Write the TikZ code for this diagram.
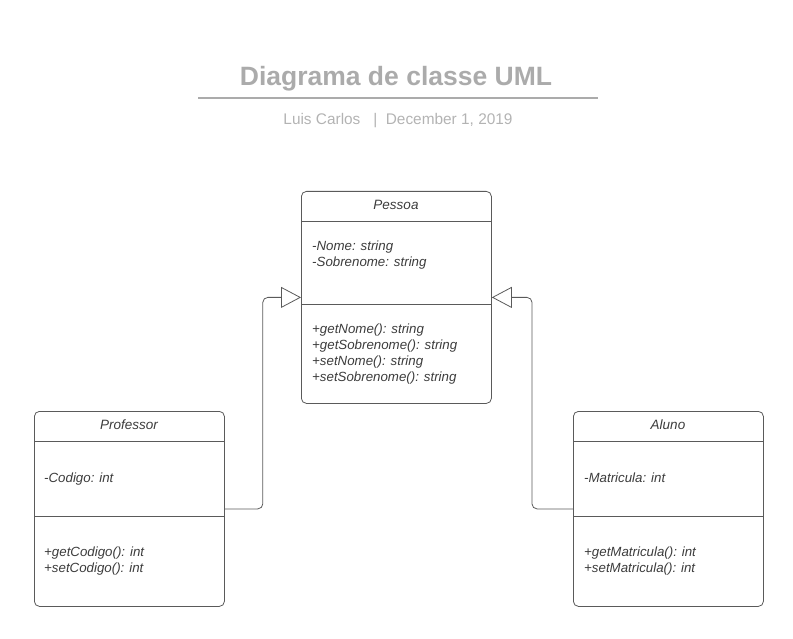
\documentclass[tikz,border=0pt]{standalone}
\usepackage{fontspec}
\setmainfont{Liberation Sans}
\usetikzlibrary{arrows.meta}
\definecolor{boxline}{HTML}{5A5A5A}
\definecolor{txt}{HTML}{3C3C3C}
\definecolor{ttl}{HTML}{ABABAB}
\definecolor{sub}{HTML}{B3B3B3}
\tikzset{
  classbox/.style={draw=boxline, line width=0.8pt, rounded corners=5pt, anchor=north west, inner sep=0pt},
  sepline/.style={draw=boxline, line width=0.8pt},
  cname/.style={font=\fontsize{13.5}{16}\selectfont\itshape, text=txt, anchor=center},
  members/.style={font=\fontsize{13.3}{16}\selectfont\itshape, text=txt, anchor=north west, align=left, inner sep=0pt},
  inherit/.style={draw=boxline, line width=0.8pt, rounded corners=5pt, -{Triangle[open, length=20pt, width=21pt, line width=0.8pt]}}
}
\begin{document}
\begin{tikzpicture}[x=1pt,y=-1pt]
\useasboundingbox (0,0) rectangle (793,639);
% title
\node[font=\fontsize{26.5}{30}\selectfont\bfseries, text=ttl] (title) at (396,79) {Diagrama de classe UML};
\draw[ttl, line width=1.5pt] (198,98) coordinate (tl) -- (598,98) coordinate (tr);
\node[font=\fontsize{15.4}{18}\selectfont, text=sub] (subtitle) at (398,121) {Luis Carlos \ \ |\ \ December 1, 2019};
% Pessoa
\node[classbox, minimum width=190pt, minimum height=212pt] (pessoa) at (301,191) {};
\draw[sepline] (301,221) -- (491,221);
\draw[sepline] (301,304) -- (491,304);
\node[cname] (pessoaname) at (396,205) {Pessoa};
\node[members] (pessoaattr) at (312,240.5) {-Nome: string\\-Sobrenome: string};
\node[members] (pessoameth) at (312,323.5) {+getNome(): string\\+getSobrenome(): string\\+setNome(): string\\+setSobrenome(): string};
% Professor
\node[classbox, minimum width=190pt, minimum height=195pt] (prof) at (34,411) {};
\draw[sepline] (34,441) -- (224,441);
\draw[sepline] (34,516) -- (224,516);
\node[cname] (profname) at (129,425) {Professor};
\node[members] (profattr) at (44,472.5) {-Codigo: int};
\node[members] (profmeth) at (44,546.5) {+getCodigo(): int\\+setCodigo(): int};
% Aluno
\node[classbox, minimum width=190pt, minimum height=195pt] (aluno) at (573,411) {};
\draw[sepline] (573,441) -- (763,441);
\draw[sepline] (573,516) -- (763,516);
\node[cname] (alunoname) at (668,425) {Aluno};
\node[members] (alunoattr) at (584,472.5) {-Matricula: int};
\node[members] (alunometh) at (584,546.5) {+getMatricula(): int\\+setMatricula(): int};
% inheritance
\draw[inherit] (prof.east) -- ++(38,0) |- (pessoa.west);
\draw[inherit] (aluno.west) -- ++(-41,0) |- (pessoa.east);
\end{tikzpicture}
\end{document}
